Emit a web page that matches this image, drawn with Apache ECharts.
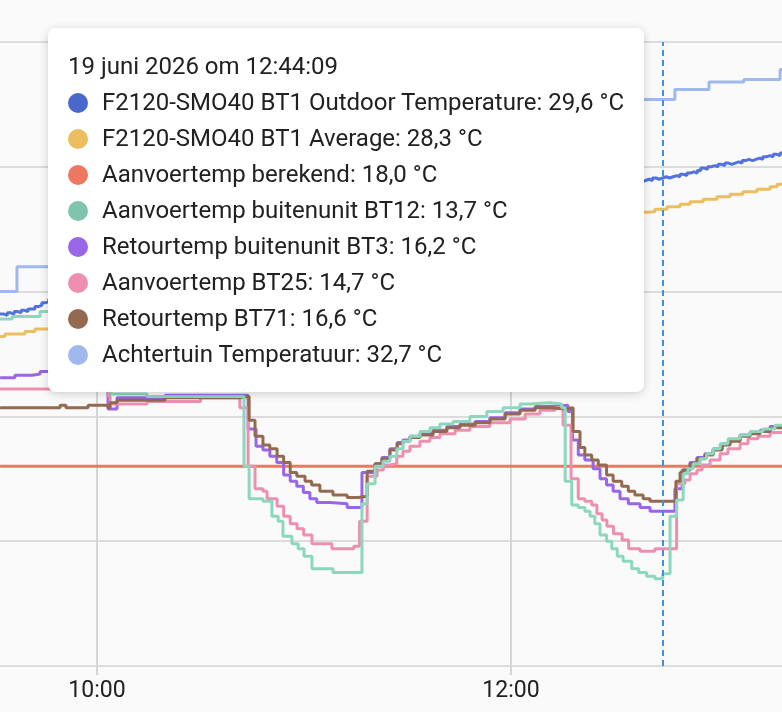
<!DOCTYPE html>
<html>
<head>
<meta charset="utf-8">
<script src="https://cdn.jsdelivr.net/npm/echarts@6/dist/echarts.min.js"></script>
<style>
  html, body { margin: 0; padding: 0; background: #fafafa; }
  #chart { width: 782px; height: 712px; }
</style>
</head>
<body>
<div id="chart"></div>
<script>
// minutes after 10:00 on 19 juni 2026, value in °C
var outdoorBT1 = [[-28.1,24.1],[-27,24.05],[-26,24.15],[-25,24.1],[-24,24.2],[-23,24.15],[-22,24.25],[-21,24.2],[-20,24.3],[-19,24.3],[-18,24.4],[-17,24.45],[-16,24.55],[-15,24.6],[-14,24.7],[-10,24.8],[-5,25.0],[0,25.3],[10,25.7],[20,26.1],[30,26.5],[40,26.9],[50,27.2],[60,27.5],[70,27.8],[80,28.0],[90,28.25],[100,28.45],[110,28.65],[120,28.85],[130,29.0],[140,29.15],[150,29.3],[155,29.4],[158,29.45],[159,29.5],[160,29.45],[161,29.55],[162,29.5],[163,29.55],[164,29.6],[165,29.55],[166,29.6],[167,29.65],[168,29.6],[169,29.7],[170,29.65],[171,29.75],[172,29.8],[173,29.75],[174,29.85],[175,29.95],[176,29.9],[177,30.0],[178,30.05],[179,30.0],[180,30.1],[181,30.05],[182,30.15],[183,30.1],[184,30.15],[185,30.2],[186,30.15],[187,30.25],[188,30.3],[189,30.25],[190,30.3],[191,30.35],[192,30.3],[193,30.4],[194,30.45],[195,30.4],[196,30.5],[197,30.45],[198,30.55],[199,30.5]];

var averageBT1 = [[-28.1,23.2],[-26.7,23.3],[-20.9,23.4],[-18.0,23.5],[-8,23.7],[0,24.0],[10,24.4],[20,24.8],[30,25.2],[40,25.5],[50,25.8],[60,26.1],[70,26.4],[80,26.7],[90,27.0],[100,27.2],[110,27.45],[120,27.7],[130,27.9],[140,28.05],[150,28.15],[155,28.2],[161.7,28.3],[165.2,28.4],[169.0,28.5],[171.9,28.6],[175.7,28.7],[179.7,28.8],[183.5,28.9],[187.2,29.0],[191.3,29.1],[195.1,29.2],[197.1,29.3],[199,29.3]];

var aanvoerBerekend = [[-28.1,18.0],[60,18.0],[120,18.0],[199,18.0]];

var aanvoerBT12 = [[-28.1,23.9],[-24.6,24.0],[-16.5,24.2],[-10,24.3],[-4,24.1],[1,23.6],[3.2,22.0],[3.8,20.9],[14.5,20.8],[42.6,18.0],[44.1,16.7],[48.1,16.6],[50.7,16.0],[52.5,15.8],[53.9,15.2],[56.5,14.9],[58.3,14.7],[60.0,14.4],[62.3,13.9],[68.4,13.75],[76.8,16.5],[78.3,17.3],[80.6,18.0],[82.9,18.2],[84.9,18.4],[86.9,18.7],[88.7,19.0],[90.7,19.2],[93.6,19.4],[96.5,19.55],[99.4,19.7],[103.2,19.8],[108.1,20.0],[113.0,20.2],[117.7,20.35],[122.6,20.5],[125.5,20.55],[131.3,20.5],[134.7,20.35],[135.7,17.4],[137.6,16.45],[139.5,16.35],[141.4,16.2],[142.9,16.0],[144.3,15.7],[145.8,15.25],[147.7,15.0],[149.2,14.7],[150.8,14.4],[152.5,14.2],[155.0,13.9],[157.0,13.75],[159.3,13.6],[161.7,13.5],[164.0,13.7],[166.1,16.0],[168.0,16.65],[169.9,17.7],[171.3,17.9],[172.8,18.1],[174.8,18.3],[176.7,18.5],[178.6,18.7],[180.6,18.9],[182.9,19.1],[186.4,19.25],[189.3,19.4],[193.0,19.5],[196.5,19.65],[199,19.7]];

var retourBT3 = [[-28.1,21.55],[-23.8,21.65],[-18.8,21.7],[-16.5,21.8],[-8,21.9],[0,21.9],[3.2,20.3],[5.8,20.75],[19.7,20.85],[43.8,19.5],[46.1,18.8],[48.1,18.65],[50.1,18.4],[52.1,18.15],[54.1,17.65],[56.0,17.4],[57.9,17.2],[59.8,16.95],[61.7,16.7],[63.7,16.55],[67.5,16.5],[72.5,16.35],[76.8,17.75],[80.6,18.1],[82.6,18.35],[84.9,18.7],[87.0,18.95],[88.7,19.05],[90.7,19.2],[93.6,19.3],[97.4,19.45],[101.4,19.6],[105.2,19.7],[109.6,19.8],[113.9,19.95],[118.3,20.15],[122.6,20.3],[127.0,20.4],[131.3,20.45],[136.5,20.2],[137.8,19.05],[139.5,18.45],[141.4,18.25],[143.8,17.9],[145.8,17.5],[147.7,17.25],[149.6,17.0],[151.6,16.7],[154.0,16.5],[157.4,16.35],[160.3,16.2],[167.5,17.1],[169.6,17.85],[171.9,18.15],[173.9,18.35],[176.2,18.5],[178.6,18.7],[181.2,18.9],[183.5,19.05],[186.4,19.25],[189.3,19.35],[192.2,19.45],[195.1,19.6],[199,19.7]];

var aanvoerBT25 = [[-28.1,21.1],[-10,21.1],[3.2,20.8],[3.8,20.5],[14.5,20.6],[30,20.75],[41.4,20.35],[43.8,18.0],[45.8,17.1],[48.1,17.0],[49.3,16.7],[52.2,16.4],[54.1,16.0],[56.0,15.7],[58.0,15.5],[59.9,15.25],[62.3,14.9],[68.1,14.7],[74.4,14.8],[76.1,15.8],[78.3,17.6],[81.2,17.85],[83.0,18.05],[84.9,18.1],[86.9,18.4],[88.7,18.6],[90.7,18.8],[93.6,19.0],[96.5,19.15],[99.4,19.3],[103.8,19.45],[108.1,19.6],[113.9,19.75],[119.7,19.9],[124.1,20.1],[128.4,20.25],[132.8,20.35],[135.1,19.65],[137.4,17.5],[139.5,16.7],[141.4,16.6],[143.4,16.45],[144.9,16.1],[146.4,15.85],[147.8,15.6],[149.7,15.3],[152.2,15.05],[154.1,14.7],[157.4,14.6],[161.7,14.7],[168.0,17.3],[170.4,17.45],[171.9,17.7],[173.9,17.85],[175.4,18.05],[177.7,18.25],[180.6,18.5],[182.9,18.7],[186.4,18.9],[188.7,19.1],[191.6,19.2],[195.1,19.35],[199,19.45]];

var retourBT71 = [[-28.1,20.35],[-10.7,20.45],[-9.0,20.35],[-2.6,20.45],[3.2,20.35],[3.8,20.55],[5.8,20.65],[19.7,20.75],[41.4,20.8],[44.1,19.85],[45.8,19.2],[48.1,18.85],[50.1,18.7],[52.2,18.4],[54.1,18.15],[56.0,17.75],[57.9,17.6],[60.3,17.4],[62.2,17.25],[64.6,17.0],[68.4,16.85],[72.5,16.75],[75.7,16.8],[78.3,17.8],[80.6,18.1],[82.6,18.3],[84.9,18.65],[87.0,18.9],[88.7,19.0],[90.7,19.15],[93.6,19.25],[97.4,19.4],[101.4,19.55],[105.2,19.65],[109.6,19.75],[113.9,19.9],[118.3,20.1],[122.6,20.25],[127.0,20.35],[131.3,20.3],[135.7,20.35],[138.0,19.4],[140.0,18.75],[141.4,18.45],[143.4,18.25],[145.3,18.05],[147.7,17.65],[149.6,17.4],[152.1,17.2],[154.0,17.0],[155.9,16.85],[158.3,16.7],[160.3,16.6],[167.8,17.4],[169.0,17.75],[169.9,17.85],[171.9,18.1],[173.9,18.3],[176.2,18.45],[178.6,18.65],[181.2,18.85],[183.5,19.0],[186.4,19.2],[189.3,19.3],[192.2,19.4],[195.1,19.55],[199,19.7]];

var achtertuin = [[-28.1,25.0],[-23.2,26.0],[-10,26.4],[0,26.8],[12,27.2],[25,27.7],[38,28.1],[50,28.6],[62,29.1],[75,29.6],[88,30.1],[100,30.6],[112,31.0],[125,31.5],[138,31.9],[150,32.3],[156,32.7],[167.5,33.1],[177.4,33.4],[187.5,33.5],[198.0,33.9],[199,33.9]];

var seriesNames = [
  "F2120-SMO40 BT1 Outdoor Temperature",
  "F2120-SMO40 BT1 Average",
  "Aanvoertemp berekend",
  "Aanvoertemp buitenunit BT12",
  "Retourtemp buitenunit BT3",
  "Aanvoertemp BT25",
  "Retourtemp BT71",
  "Achtertuin Temperatuur"
];
var seriesData = [outdoorBT1, averageBT1, aanvoerBerekend, aanvoerBT12, retourBT3, aanvoerBT25, retourBT71, achtertuin];
var colors = ["#4a68cb", "#ecbf5e", "#ee7761", "#80c4ad", "#9966e8", "#ee8fb2", "#936a50", "#9fb9ef"];

var xTickMinutes = [0, 120];   // 10:00 and 12:00
var yTicks = [10, 15, 20, 25, 30, 35];
var viewStart = -28.12;   // minutes after 10:00 at left edge
var viewEnd = 198.55;     // minutes after 10:00 at right edge
var tipMinute = 164.15;   // 12:44:09
var tipTitle = "19 juni 2026 om 12:44:09";

var base = new Date(2026, 5, 19, 10, 0, 0).getTime();
function toTime(m) { return base + m * 60000; }

function valueAt(points, m) {
  var v = points[0][1];
  for (var i = 0; i < points.length; i++) {
    if (points[i][0] <= m) v = points[i][1];
  }
  return v;
}

function tooltipHtml() {
  var html = '<div style="line-height:36px">' + tipTitle + '</div>';
  for (var i = 0; i < seriesNames.length; i++) {
    var v = valueAt(seriesData[i], tipMinute).toFixed(1).replace(".", ",");
    html += '<div style="line-height:36px;white-space:nowrap">' +
      '<span style="display:inline-block;width:20px;height:20px;border-radius:10px;background:' + colors[i] +
      ';vertical-align:-3px;margin-right:14px"></span>' +
      seriesNames[i] + ": " + v + " °C</div>";
  }
  return html;
}

// only label the ticks listed in xTickMinutes
function hourLabel(val) {
  var m = Math.round((val - base) / 60000);
  if (xTickMinutes.indexOf(m) < 0) return "";
  var d = new Date(val);
  return String(d.getHours()).padStart(2, "0") + ":" + String(d.getMinutes()).padStart(2, "0");
}

var chartDom = document.getElementById("chart");
var myChart = echarts.init(chartDom, null, { renderer: "canvas" });

var option = {
  animation: false,
  backgroundColor: "#fafafa",
  textStyle: { fontFamily: "Roboto" },
  grid: { left: 0, right: 0, top: 42, bottom: 46 },
  tooltip: {
    trigger: "axis",
    alwaysShowContent: true,
    transitionDuration: 0,
    position: [48, 28],
    backgroundColor: "#ffffff",
    borderWidth: 0,
    padding: 20,
    textStyle: { fontFamily: "Roboto", fontSize: 24, color: "#212121" },
    extraCssText: "border-radius:8px;box-shadow:0 2px 10px rgba(0,0,0,0.18);",
    axisPointer: {
      type: "line",
      snap: false,
      lineStyle: { color: "#3c92df", width: 2, type: [6, 4] }
    },
    formatter: function () { return tooltipHtml(); }
  },
  xAxis: {
    type: "time",
    min: toTime(viewStart),
    max: toTime(viewEnd),
    axisLine: { show: false },
    axisTick: {
      show: true,
      length: 9,
      customValues: xTickMinutes.map(toTime),
      lineStyle: { color: "#d6d6d6", width: 2 }
    },
    splitLine: { show: true, lineStyle: { color: "#d6d6d6", width: 2 } },
    axisLabel: {
      fontSize: 23,
      color: "#212121",
      margin: 14,
      formatter: hourLabel
    }
  },
  yAxis: {
    type: "value",
    min: yTicks[0],
    max: yTicks[yTicks.length - 1],
    interval: 5,
    axisLabel: { show: false },
    axisLine: { show: false },
    axisTick: { show: false },
    splitLine: { lineStyle: { color: "#dcdcdc", width: 2 } }
  },
  series: seriesNames.map(function (name, i) {
    return {
      name: name,
      type: "line",
      step: "end",
      symbol: "none",
      color: colors[i],
      lineStyle: { width: 3, color: colors[i] },
      data: seriesData[i].map(function (p) { return [toTime(p[0]), p[1]]; })
    };
  })
};

option && myChart.setOption(option);

var tipX = myChart.convertToPixel({ xAxisIndex: 0 }, toTime(tipMinute));
myChart.dispatchAction({ type: "showTip", x: tipX, y: 300 });
</script>
</body>
</html>
